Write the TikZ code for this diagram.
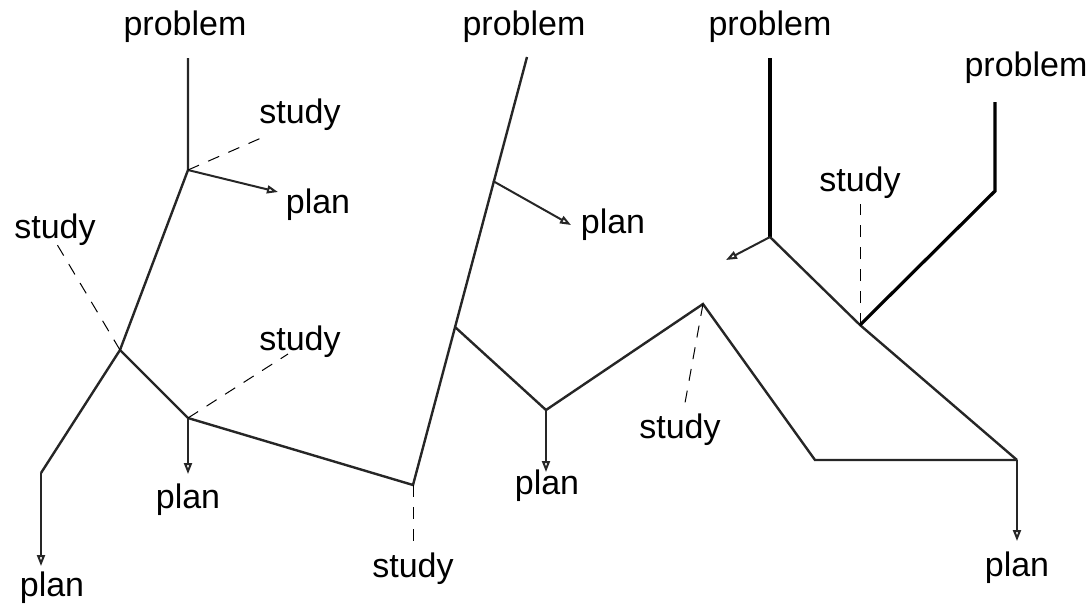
\documentclass[tikz,border=0pt]{standalone}
\usepackage{fontspec}
\setmainfont{Liberation Sans}
\usetikzlibrary{arrows.meta}
\begin{document}
\begin{tikzpicture}[x=0.5pt,y=-0.5pt,
  lbl/.style={inner sep=0pt,font=\fontsize{17}{20}\selectfont},
  path/.style={line width=1.2pt,draw=black!85,line join=miter},
  thickpath/.style={line width=1.6pt,draw=black,line join=miter},
  planarrow/.style={line width=1pt,draw=black!85,-{Triangle[open,length=5.5pt,width=4pt]}},
  studylink/.style={line width=0.5pt,dash pattern=on 6pt off 5pt}]
\useasboundingbox (0,0) rectangle (1088,607);
% labels
\node[lbl] (P1) at (185,27) {problem};
\node[lbl] (S1) at (300,115) {study};
\node[lbl] (L1) at (318,205) {plan};
\node[lbl] (S2) at (55,230) {study};
\node[lbl] (S3) at (300,342) {study};
\node[lbl] (L2) at (188,500) {plan};
\node[lbl] (L3) at (52,588) {plan};
\node[lbl] (S4) at (413,569) {study};
\node[lbl] (P2) at (524,27) {problem};
\node[lbl] (L4) at (613,225) {plan};
\node[lbl] (L5) at (547,486) {plan};
\node[lbl] (S5) at (680,430) {study};
\node[lbl] (P3) at (770,27) {problem};
\node[lbl] (S6) at (860,183) {study};
\node[lbl] (P4) at (1026,68) {problem};
\node[lbl] (L6) at (1017,568) {plan};
% points
\coordinate (t1) at (188,58);
\coordinate (A1) at (188,170);
\coordinate (A2) at (120,350);
\coordinate (A2b) at (41,473);
\coordinate (A3) at (188,418);
\coordinate (A4) at (413,485);
\coordinate (t2) at (527,57);
\coordinate (B1) at (493,181);
\coordinate (B2) at (455,327);
\coordinate (B3) at (546,410);
\coordinate (B4) at (703,304);
\coordinate (B5) at (815,460);
\coordinate (B6) at (1017,460);
\coordinate (t3) at (770,58);
\coordinate (C1) at (770,237);
\coordinate (C2) at (860,325);
\coordinate (t4) at (995,102);
\coordinate (C3) at (995,191);
% plan arrow ends
\coordinate (e1) at (278,192);
\coordinate (e2) at (41,566);
\coordinate (e3) at (188,474);
\coordinate (e4) at (571,225);
\coordinate (e5) at (546,472);
\coordinate (e6) at (726,260);
\coordinate (e7) at (1017,541);
% study link ends
\coordinate (d1) at (268,135);
\coordinate (d2) at (52,236);
\coordinate (d3) at (288,354);
\coordinate (d4) at (413,541);
\coordinate (d5) at (685,403);
\coordinate (d6) at (860,204);
% main paths
\draw[path] (t1) -- (A1) -- (A2) -- (A2b);
\draw[path] (A2) -- (A3) -- (A4) -- (t2);
\draw[path] (B2) -- (B3) -- (B4) -- (B5) -- (B6);
\draw[thickpath] (t3) -- (C1);
\draw[path] (C1) -- (C2) -- (B6);
\draw[thickpath] (t4) -- (C3) -- (C2);
% plan arrows
\draw[planarrow] (A1) -- (e1);
\draw[planarrow] (A2b) -- (e2);
\draw[planarrow] (A3) -- (e3);
\draw[planarrow] (B1) -- (e4);
\draw[planarrow] (B3) -- (e5);
\draw[planarrow] (C1) -- (e6);
\draw[planarrow] (B6) -- (e7);
% study links
\draw[studylink] (A1) -- (d1);
\draw[studylink] (A2) -- (d2);
\draw[studylink] (A3) -- (d3);
\draw[studylink] (A4) -- (d4);
\draw[studylink] (B4) -- (d5);
\draw[studylink] (C2) -- (d6);
\end{tikzpicture}
\end{document}
